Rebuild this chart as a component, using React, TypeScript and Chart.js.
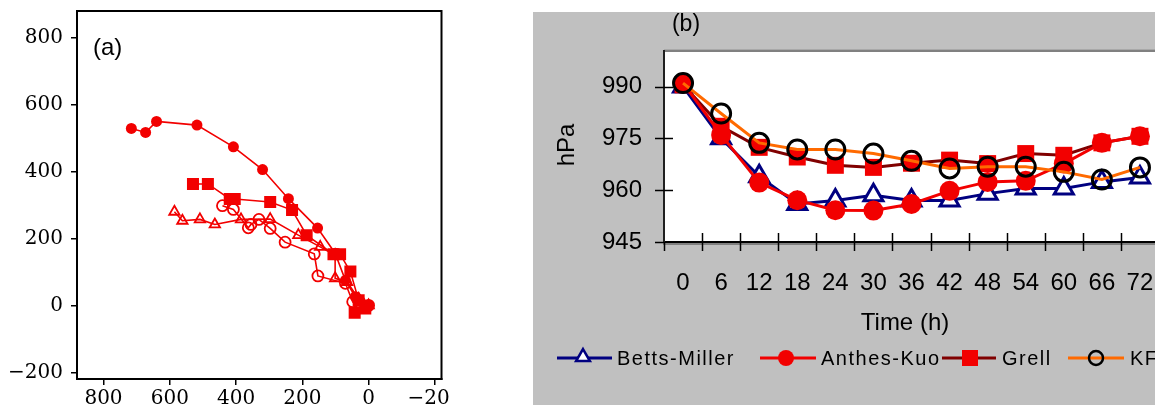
import React, { useEffect, useRef } from 'react';
import { Chart, registerables } from 'chart.js';

Chart.register(...registerables);

// ---------- Panel (a): simulated tracks (km), x axis reversed ----------
const trackTicks = [-200, 0, 200, 400, 600, 800];
const bmTrackX = [0, 30, 65, 101, 101, 146, 212, 297, 385, 464, 509, 562, 586];
const bmTrackY = [0, 20, 70, 81, 150, 175, 210, 258, 257, 242, 257, 253, 280];
const akTrackX = [0, 25, 40, 70, 101, 154, 242, 320, 408, 518, 640, 673, 716];
const akTrackY = [0, 12, 26, 75, 156, 231, 319, 406, 474, 539, 550, 517, 529];
const grellTrackX = [10, 42, 30, 55, 86, 106, 187, 231, 297, 404, 419, 485, 530];
const grellTrackY = [-9, -22, 15, 101, 153, 153, 210, 285, 309, 318, 318, 363, 363];
const kfTrackX = [0, 25, 48, 70, 153, 164, 252, 297, 331, 355, 363, 408, 441];
const kfTrackY = [0, 5, 11, 66, 88, 154, 189, 230, 257, 242, 232, 287, 298];

// ---------- Panel (b): central pressure (hPa) ----------
const hours = ['0', '6', '12', '18', '24', '30', '36', '42', '48', '54', '60', '66', '72'];
const pressureTicks = [945, 960, 975, 990];
const bettsMiller = [990, 975, 964, 956, 957, 958.5, 957, 957, 959, 960.5, 960.5, 962.4, 963.7];
const anthesKuo = [991, 976, 962.2, 957.1, 954.2, 954.1, 956, 959.8, 962.4, 962.7, 967.7, 973.7, 975.6];
const grell = [990.5, 978.5, 972.4, 969.6, 967.2, 966.6, 967.8, 968.7, 967.7, 970.6, 970.1, 973.7, 975.6];
const kf = [991, 982.2, 973.7, 971.8, 971.8, 970.6, 968.5, 966.3, 966.8, 966.8, 965.3, 963.1, 966.6];

const RED = '#f20000';
const NAVY = '#000080';
const DARKRED = '#800000';
const ORANGE = '#ff6a00';

const pts = (xs: number[], ys: number[]) => xs.map((x, i) => ({ x, y: ys[i] }));
const minusFmt = (v: any) => (Number(v) < 0 ? '\u2212' + Math.abs(Number(v)) : String(v));

const frameA = {
  id: 'frameA',
  afterDraw(chart: any) {
    const { ctx, chartArea: a } = chart;
    ctx.save();
    ctx.strokeStyle = '#000';
    ctx.lineWidth = 2;
    ctx.strokeRect(a.left, a.top, a.right - a.left, a.bottom - a.top);
    ctx.fillStyle = '#000';
    ctx.font = '24px "Liberation Sans", Arial, sans-serif';
    ctx.textAlign = 'left';
    ctx.textBaseline = 'alphabetic';
    ctx.fillText('(a)', a.left + 16, a.top + 44);
    ctx.restore();
  },
};

function drawTri(ctx: any, x: number, y: number, r: number) {
  ctx.beginPath();
  ctx.moveTo(x, y - r);
  ctx.lineTo(x + r * 0.866, y + r * 0.5);
  ctx.lineTo(x - r * 0.866, y + r * 0.5);
  ctx.closePath();
}

const frameB = {
  id: 'frameB',
  beforeDraw(chart: any) {
    const { ctx, chartArea: a, width, height } = chart;
    ctx.save();
    ctx.fillStyle = '#c0c0c0';
    ctx.fillRect(0, 0, width, height);
    ctx.fillStyle = '#ffffff';
    ctx.fillRect(a.left, a.top, a.right - a.left, a.bottom - a.top);
    ctx.restore();
  },
  beforeDatasetsDraw(chart: any) {
    const { ctx, chartArea: a, width } = chart;
    ctx.save();
    // top border (grey)
    ctx.fillStyle = '#a8a8a8';
    ctx.fillRect(a.left, a.top - 3, width - a.left, 1);
    ctx.fillStyle = '#808080';
    ctx.fillRect(a.left, a.top - 2, width - a.left, 2);
    // bottom axis
    ctx.fillStyle = '#000';
    ctx.fillRect(a.left - 1, a.bottom - 1, width - a.left + 1, 2);
    ctx.fillStyle = '#808080';
    ctx.fillRect(a.left - 1, a.bottom + 1, width - a.left + 1, 2);
    // left axis
    ctx.fillStyle = '#202020';
    ctx.fillRect(a.left - 1, a.top - 2, 2, a.bottom - a.top + 3);
    // ticks
    ctx.strokeStyle = '#000';
    ctx.lineWidth = 1.5;
    const ys = chart.scales.y;
    pressureTicks.forEach((v) => {
      const py = Math.round(ys.getPixelForValue(v)) + 0.5;
      ctx.beginPath();
      ctx.moveTo(a.left - 9, py);
      ctx.lineTo(v === pressureTicks[0] ? a.left : a.left + 9, py);
      ctx.stroke();
    });
    const n = hours.length;
    const w = (a.right - a.left) / n;
    for (let k = 0; k <= n; k++) {
      const px = Math.round(a.left + k * w) + 0.5;
      ctx.beginPath();
      ctx.moveTo(px, k === 0 ? a.bottom : a.bottom - 9);
      ctx.lineTo(px, a.bottom + 9);
      ctx.stroke();
    }
    ctx.restore();
  },
  afterDraw(chart: any) {
    const { ctx } = chart;
    ctx.save();
    ctx.fillStyle = '#000';
    ctx.textBaseline = 'middle';
    ctx.textAlign = 'center';
    ctx.font = '23px "Liberation Sans", Arial, sans-serif';
    ctx.fillText('(b)', 153, 13);
    ctx.font = '24px "Liberation Sans", Arial, sans-serif';
    ctx.fillText('Time (h)', 372, 311);
    ctx.save();
    ctx.translate(34, 133);
    ctx.rotate(-Math.PI / 2);
    ctx.fillText('hPa', 0, 0);
    ctx.restore();

    // legend
    const ly = 346;
    const line = (x1: number, x2: number, c: string) => {
      ctx.strokeStyle = c;
      ctx.lineWidth = 3;
      ctx.beginPath();
      ctx.moveTo(x1, ly);
      ctx.lineTo(x2, ly);
      ctx.stroke();
    };
    ctx.font = '20px "Liberation Sans", Arial, sans-serif';
    ctx.textAlign = 'left';
    try { (ctx as any).letterSpacing = '1.5px'; } catch (e) {}
    // Betts-Miller
    line(24, 79, NAVY);
    drawTri(ctx, 50, ly - 1, 8);
    ctx.fillStyle = '#fff';
    ctx.fill();
    ctx.strokeStyle = NAVY;
    ctx.lineWidth = 2.5;
    ctx.stroke();
    ctx.fillStyle = '#000';
    ctx.fillText('Betts-Miller', 84, ly + 1);
    // Anthes-Kuo
    line(227, 283, RED);
    ctx.fillStyle = RED;
    ctx.beginPath();
    ctx.arc(253, ly, 8, 0, Math.PI * 2);
    ctx.fill();
    ctx.fillStyle = '#000';
    ctx.fillText('Anthes-Kuo', 288, ly + 1);
    // Grell
    line(409, 463, DARKRED);
    ctx.fillStyle = RED;
    ctx.fillRect(437 - 8, ly - 8, 16, 16);
    ctx.fillStyle = '#000';
    ctx.fillText('Grell', 469, ly + 1);
    // KF
    line(535, 591, ORANGE);
    ctx.strokeStyle = '#000';
    ctx.lineWidth = 2.5;
    ctx.beginPath();
    ctx.arc(563, ly, 7, 0, Math.PI * 2);
    ctx.stroke();
    ctx.fillStyle = '#000';
    ctx.fillText('KF', 597, ly + 1);
    ctx.restore();
  },
};

export default function App() {
  const refA = useRef<HTMLCanvasElement>(null);
  const refB = useRef<HTMLCanvasElement>(null);

  useEffect(() => {
    const serif = { family: '"DejaVu Serif", serif', size: 20 };
    const trackDs = (label: string, xs: number[], ys: number[], style: string, r: number, filled: boolean) => ({
      label,
      data: pts(xs, ys),
      showLine: true,
      borderColor: RED,
      borderWidth: 1.6,
      pointStyle: style,
      pointRadius: r,
      pointBorderWidth: filled ? 0 : 1.8,
      pointBorderColor: RED,
      pointBackgroundColor: filled ? RED : 'rgba(0,0,0,0)',
    });
    const ca = new Chart(refA.current!, {
      type: 'scatter',
      data: {
        datasets: [
          trackDs('Betts-Miller', bmTrackX, bmTrackY, 'triangle', 6, false),
          trackDs('Anthes-Kuo', akTrackX, akTrackY, 'circle', 5.5, true),
          trackDs('Grell', grellTrackX, grellTrackY, 'rect', 8.5, true),
          trackDs('KF', kfTrackX, kfTrackY, 'circle', 5.5, false),
        ] as any,
      },
      options: {
        animation: false,
        responsive: false,
        devicePixelRatio: 1,
        layout: { padding: { left: 0, top: 11, right: 8, bottom: 0 } },
        plugins: { legend: { display: false }, tooltip: { enabled: false } },
        scales: {
          x: {
            type: 'linear',
            reverse: true,
            min: -220,
            max: 880,
            afterBuildTicks: (s: any) => { s.ticks = trackTicks.map((v) => ({ value: v })); },
            afterFit: (s: any) => { s.height = 26; s.paddingLeft = 0; s.paddingRight = 0; },
            ticks: { callback: minusFmt, font: serif, color: '#000', padding: 2, maxRotation: 0, autoSkip: false },
            grid: { display: true, drawOnChartArea: false, drawTicks: true, tickLength: 6, color: '#000', lineWidth: 1.5 },
            border: { display: true, color: '#000', width: 2 },
          },
          y: {
            type: 'linear',
            min: -220,
            max: 880,
            afterBuildTicks: (s: any) => { s.ticks = trackTicks.map((v) => ({ value: v })); },
            afterFit: (s: any) => { s.width = 77; s.paddingTop = 0; s.paddingBottom = 0; },
            ticks: { callback: minusFmt, font: serif, color: '#000', padding: 8, autoSkip: false },
            grid: { display: true, drawOnChartArea: false, drawTicks: true, tickLength: 6, color: '#000', lineWidth: 1.5 },
            border: { display: true, color: '#000', width: 2 },
          },
        },
      } as any,
      plugins: [frameA],
    });

    const sans = { family: '"Liberation Sans", Arial, sans-serif', size: 24 };
    const cb = new Chart(refB.current!, {
      type: 'line',
      data: {
        labels: hours,
        datasets: [
          {
            label: 'Betts-Miller', data: bettsMiller, order: 3,
            borderColor: NAVY, borderWidth: 3, pointStyle: 'triangle', pointRadius: 11,
            pointBorderColor: NAVY, pointBorderWidth: 3, pointBackgroundColor: '#fff',
          },
          {
            label: 'Anthes-Kuo', data: anthesKuo, order: 1,
            borderColor: RED, borderWidth: 3, pointStyle: 'circle', pointRadius: 10,
            pointBorderWidth: 0, pointBackgroundColor: RED, pointBorderColor: RED,
          },
          {
            label: 'Grell', data: grell, order: 2,
            borderColor: DARKRED, borderWidth: 3, pointStyle: 'rect', pointRadius: 12,
            pointBorderWidth: 0, pointBackgroundColor: RED, pointBorderColor: RED,
          },
          {
            label: 'KF', data: kf, order: 0,
            borderColor: ORANGE, borderWidth: 3, pointStyle: 'circle', pointRadius: 9.5,
            pointBorderWidth: 3, pointBorderColor: '#000', pointBackgroundColor: 'rgba(0,0,0,0)',
          },
        ] as any,
      },
      options: {
        animation: false,
        responsive: false,
        devicePixelRatio: 1,
        layout: { padding: { left: 0, top: 40, right: 14, bottom: 0 } },
        plugins: { legend: { display: false }, tooltip: { enabled: false } },
        elements: { line: { tension: 0 } },
        scales: {
          x: {
            type: 'category',
            offset: true,
            afterFit: (s: any) => { s.height = 163; s.paddingLeft = 0; s.paddingRight = 0; },
            ticks: { font: sans, color: '#000', padding: 27, maxRotation: 0, autoSkip: false },
            grid: { display: false, drawTicks: false },
            border: { display: false },
          },
          y: {
            type: 'linear',
            min: 945,
            max: 1000,
            afterBuildTicks: (s: any) => { s.ticks = pressureTicks.map((v) => ({ value: v })); },
            afterFit: (s: any) => { s.width = 131; s.paddingTop = 0; s.paddingBottom = 0; },
            ticks: { font: sans, color: '#000', padding: 22, autoSkip: false },
            grid: { display: false, drawTicks: false },
            border: { display: false },
          },
        },
      } as any,
      plugins: [frameB],
    });

    return () => {
      ca.destroy();
      cb.destroy();
    };
  }, []);

  return (
    <div style={{ position: 'fixed', left: 0, top: 0, width: 1155, height: 405, background: '#fff', overflow: 'hidden' }}>
      <canvas ref={refA} width={450} height={405} style={{ position: 'absolute', left: 0, top: 0, width: 450, height: 405 }} />
      <div style={{ position: 'absolute', left: 533, top: 12, width: 622, height: 393, overflow: 'hidden', background: '#c0c0c0' }}>
        <canvas ref={refB} width={640} height={393} style={{ position: 'absolute', left: 0, top: 0, width: 640, height: 393 }} />
      </div>
    </div>
  );
}
